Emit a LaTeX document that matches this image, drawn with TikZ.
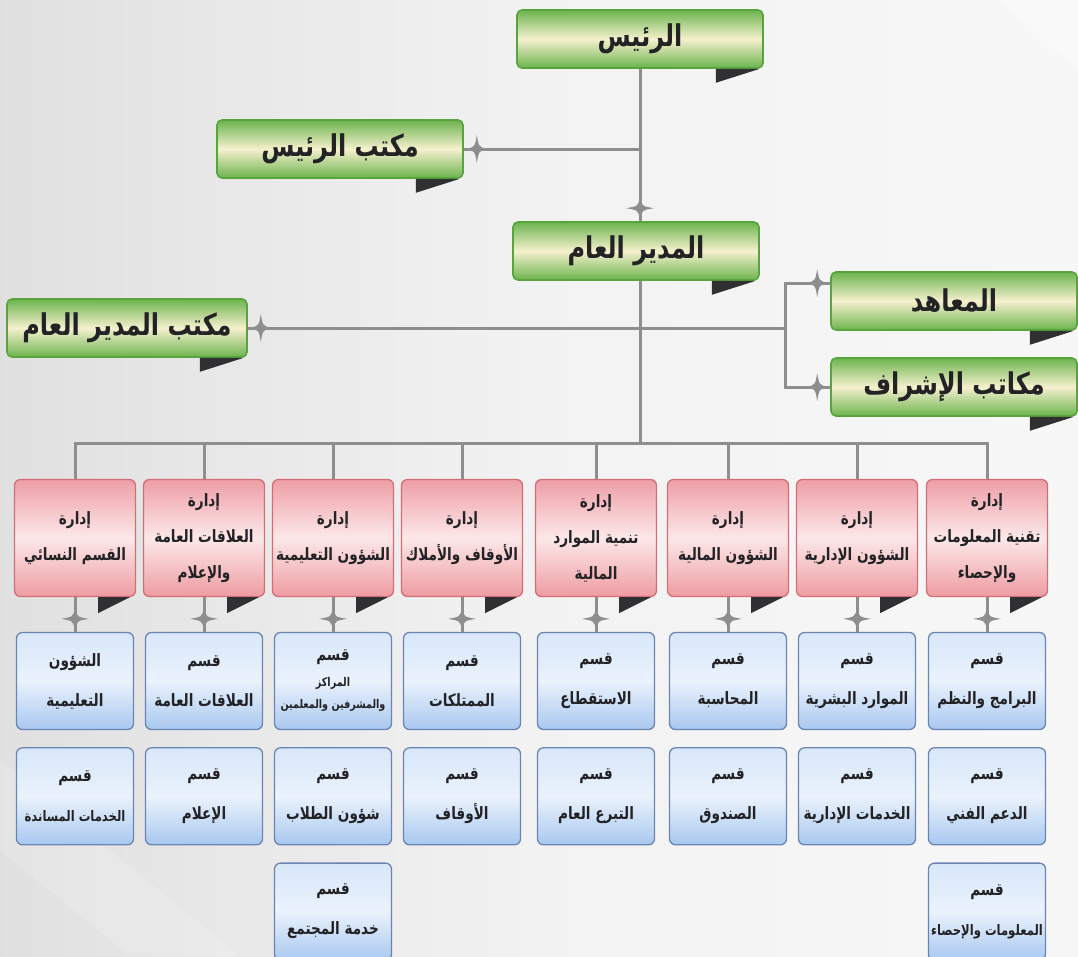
\documentclass[tikz,border=0pt]{standalone}
\usepackage{fontspec}
\newfontfamily\arabicfont[Script=Arabic,FakeStretch=0.8]{DejaVu Sans}
\TeXXeTstate=1
\usetikzlibrary{positioning}
\usetikzlibrary{decorations.markings}

\definecolor{greenedge}{RGB}{88,165,62}
\definecolor{greentop}{RGB}{108,180,78}
\definecolor{greenmid}{RGB}{246,240,206}
\definecolor{rededge}{RGB}{212,110,118}
\definecolor{redtop}{RGB}{238,158,166}
\definecolor{redmid}{RGB}{252,232,233}
\definecolor{redbot}{RGB}{238,156,162}
\definecolor{blueedge}{RGB}{108,132,176}
\definecolor{bluetop}{RGB}{216,231,250}
\definecolor{bluemid}{RGB}{234,242,252}
\definecolor{bluebot}{RGB}{168,200,240}
\definecolor{linkgray}{RGB}{142,142,142}
\definecolor{tabdark}{RGB}{48,48,50}
\definecolor{inkgray}{RGB}{35,35,38}

\newcommand{\ar}[1]{\beginR #1\endR}
\newcommand{\arsmall}[1]{{\fontsize{12}{14}\selectfont\beginR #1\endR}}
\newcommand{\armid}[1]{{\fontsize{14.5}{16}\selectfont\beginR #1\endR}}

\begin{document}
\begin{tikzpicture}[x=1pt,y=-1pt,
    wire/.style={draw=linkgray,line width=3pt},
    link/.style={wire,postaction={decorate},
        decoration={markings,mark=at position -13pt with {
            \fill[linkgray] (-11pt,0) .. controls (-2pt,2pt) .. (0,14pt)
                .. controls (2pt,2pt) .. (11pt,0)
                .. controls (2pt,-2pt) .. (0,-14pt)
                .. controls (-2pt,-2pt) .. (-11pt,0) -- cycle;}}}]
\clip (0,0) rectangle (1078,956);
\shade[left color=black!12,right color=black!3,middle color=black!5] (0,0) rectangle (1078,956);
\fill[white,opacity=0.35] (1000,0) -- (1078,0) -- (1078,70) -- cycle;
\fill[white,opacity=0.15] (0,760) -- (240,956) -- (130,956) -- (0,850) -- cycle;

\newcommand{\greenTab}[1]{\fill[tabdark] ([xshift=-48pt]#1.south east) -- ([xshift=-4pt]#1.south east) -- ([xshift=-48pt,yshift=-14pt]#1.south east) -- cycle;}
\newcommand{\redTab}[1]{\fill[tabdark] ([xshift=-38pt]#1.south east) -- ([xshift=-6pt]#1.south east) -- ([xshift=-38pt,yshift=-16pt]#1.south east) -- cycle;}

\begin{scope}[every node/.style={rounded corners=5pt,draw=greenedge,line width=1.6pt,
        top color=greentop,bottom color=greentop,middle color=greenmid,
        minimum width=246pt,minimum height=58pt,text=inkgray,
        font=\arabicfont\bfseries\fontsize{30}{32}\selectfont}]
    \node (president)   at (640,39)  {\ar{الرئيس}};
    \node (pres_office) at (340,149) {\ar{مكتب الرئيس}};
    \node (gen_mgr)     at (636,251) {\ar{المدير العام}};
    \node[minimum width=240pt] (gm_office) at (127,328) {\ar{مكتب المدير العام}};
    \node (institutes)  at (954,301) {\ar{المعاهد}};
    \node (sup_offices) at (954,387) {\ar{مكاتب الإشراف}};
\end{scope}

\begin{scope}[every node/.style={rounded corners=6pt,draw=rededge,line width=1.3pt,
        top color=redtop,bottom color=redbot,middle color=redmid,
        minimum width=121pt,minimum height=117pt,align=center,text=inkgray,
        font=\arabicfont\bfseries\fontsize{17}{36}\selectfont}]
    \node (women_dept) at (75,538)  {\ar{إدارة}\\\ar{القسم النسائي}};
    \node (pr_dept)    at (204,538) {\ar{إدارة}\\\ar{العلاقات العامة}\\\ar{والإعلام}};
    \node (edu_dept)   at (333,538) {\ar{إدارة}\\\ar{الشؤون التعليمية}};
    \node (waqf_dept)  at (462,538) {\ar{إدارة}\\\ar{الأوقاف والأملاك}};
    \node (dev_dept)   at (596,538) {\ar{إدارة}\\\ar{تنمية الموارد}\\\ar{المالية}};
    \node (fin_dept)   at (728,538) {\ar{إدارة}\\\ar{الشؤون المالية}};
    \node (admin_dept) at (857,538) {\ar{إدارة}\\\ar{الشؤون الإدارية}};
    \node (it_dept)    at (987,538) {\ar{إدارة}\\\ar{تقنية المعلومات}\\\ar{والإحصاء}};
\end{scope}

\begin{scope}[every node/.style={rounded corners=6pt,draw=blueedge,line width=1.3pt,
        top color=bluetop,bottom color=bluebot,middle color=bluemid,
        minimum width=117pt,minimum height=97pt,align=center,text=inkgray,
        inner xsep=2pt,font=\arabicfont\bfseries\fontsize{17}{40}\selectfont}]
    \node (women_edu_sec) at (75,681)  {\ar{الشؤون}\\\ar{التعليمية}};
    \node[below=17pt of women_edu_sec] (women_svc_sec) {\ar{قسم}\\\armid{الخدمات المساندة}};
    \node (pubrel_sec) at (204,681) {\ar{قسم}\\\ar{العلاقات العامة}};
    \node[below=17pt of pubrel_sec] (media_sec) {\ar{قسم}\\\ar{الإعلام}};
    \node (centers_sec) at (333,681) {\ar{قسم}\\[-14pt]\arsmall{المراكز}\\[-18pt]\arsmall{والمشرفين والمعلمين}};
    \node[below=17pt of centers_sec] (students_sec) {\ar{قسم}\\\ar{شؤون الطلاب}};
    \node[below=17pt of students_sec] (community_sec) {\ar{قسم}\\\ar{خدمة المجتمع}};
    \node (prop_sec) at (462,681) {\ar{قسم}\\\ar{الممتلكات}};
    \node[below=17pt of prop_sec] (awqaf_sec) {\ar{قسم}\\\ar{الأوقاف}};
    \node (deduct_sec) at (596,681) {\ar{قسم}\\\ar{الاستقطاع}};
    \node[below=17pt of deduct_sec] (donate_sec) {\ar{قسم}\\\ar{التبرع العام}};
    \node (acct_sec) at (728,681) {\ar{قسم}\\\ar{المحاسبة}};
    \node[below=17pt of acct_sec] (fund_sec) {\ar{قسم}\\\ar{الصندوق}};
    \node (hr_sec) at (857,681) {\ar{قسم}\\\ar{الموارد البشرية}};
    \node[below=17pt of hr_sec] (adminsvc_sec) {\ar{قسم}\\\ar{الخدمات الإدارية}};
    \node (prog_sec) at (987,681) {\ar{قسم}\\\ar{البرامج والنظم}};
    \node[below=17pt of prog_sec] (support_sec) {\ar{قسم}\\\ar{الدعم الفني}};
    \node[below=17pt of support_sec] (info_sec) {\ar{قسم}\\\armid{المعلومات والإحصاء}};
\end{scope}

\greenTab{president}
\greenTab{pres_office}
\greenTab{gen_mgr}
\greenTab{gm_office}
\greenTab{institutes}
\greenTab{sup_offices}
\redTab{women_dept}
\redTab{pr_dept}
\redTab{edu_dept}
\redTab{waqf_dept}
\redTab{dev_dept}
\redTab{fin_dept}
\redTab{admin_dept}
\redTab{it_dept}

\coordinate (mid_join) at (president.south |- gm_office.east);
\coordinate (brace_pt) at ([xshift=145pt]mid_join);
\coordinate (bus) at (640,443);

\draw[link] (president.south) -- (gen_mgr.north -| president.south);
\draw[link] (president.south |- pres_office.east) -- (pres_office.east);
\draw[wire] (gen_mgr.south -| president.south) -- (bus);
\draw[link] (mid_join) -- (gm_office.east);
\draw[wire] (mid_join) -- (brace_pt);
\draw[link] (brace_pt) |- ([yshift=18pt]institutes.west);
\draw[link] (brace_pt) |- (sup_offices.west);
\draw[wire] (bus) -| (women_dept.north);
\draw[wire] (bus) -| (pr_dept.north);
\draw[wire] (bus) -| (edu_dept.north);
\draw[wire] (bus) -| (waqf_dept.north);
\draw[wire] (bus) -| (dev_dept.north);
\draw[wire] (bus) -| (fin_dept.north);
\draw[wire] (bus) -| (admin_dept.north);
\draw[wire] (bus) -| (it_dept.north);
\draw[link] (women_dept.south) -- (women_edu_sec.north);
\draw[link] (pr_dept.south) -- (pubrel_sec.north);
\draw[link] (edu_dept.south) -- (centers_sec.north);
\draw[link] (waqf_dept.south) -- (prop_sec.north);
\draw[link] (dev_dept.south) -- (deduct_sec.north);
\draw[link] (fin_dept.south) -- (acct_sec.north);
\draw[link] (admin_dept.south) -- (hr_sec.north);
\draw[link] (it_dept.south) -- (prog_sec.north);
\end{tikzpicture}
\end{document}
